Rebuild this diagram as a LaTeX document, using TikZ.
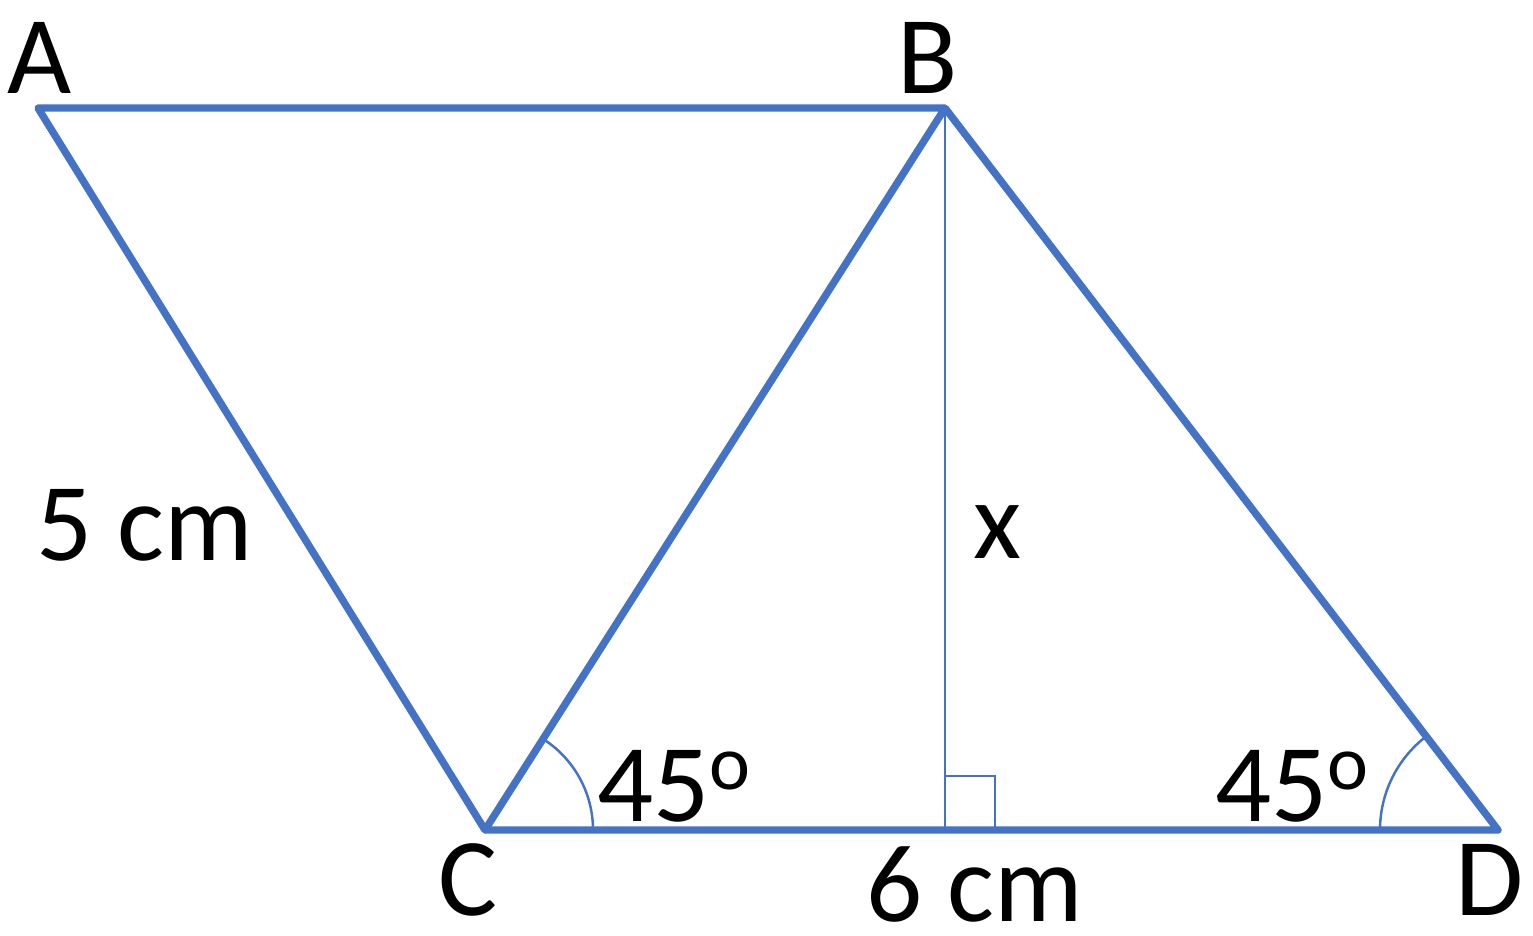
\documentclass[tikz,border=0pt]{standalone}
\usepackage{fontspec}
\setmainfont{Carlito}
\definecolor{ln}{HTML}{4472C4}
\begin{document}
\begin{tikzpicture}[x=0.01cm,y=-0.01cm,
  thickln/.style={draw=ln,line width=2.1pt,line join=round},
  thinln/.style={draw=ln,line width=0.7pt},
  lbl/.style={font=\fontsize{31.5}{34}\selectfont,inner sep=0pt}]
\useasboundingbox (0,0) rectangle (1533,935);
\coordinate (A) at (38,108);
\coordinate (B) at (945,108);
\coordinate (C) at (485,830);
\coordinate (D) at (1498,830);
\coordinate (F) at (945,830);
\draw[thickln] (A) -- (B) -- (C) -- cycle;
\draw[thickln] (B) -- (D) -- (C);
\draw[thinln] (B) -- (F);
\draw[thinln] (945,776) -- (995,776) -- (995,830);
\draw[thinln] (593,830) arc[start angle=0,end angle=-57.5,radius=108];
\draw[thinln] (1380,830) arc[start angle=180,end angle=232.5,radius=118];
\node[lbl] (la) at (40,58) {A};
\node[lbl] (lb) at (928,58) {B};
\node[lbl] (lc) at (468,880) {C};
\node[lbl] (ld) at (1490,880) {D};
\node[lbl] (l5) at (145,525) {5 cm};
\node[lbl] (lx) at (997,532) {x};
\node[lbl] (l6) at (975,884) {6 cm};
\node[lbl] (a1) at (675,786) {45\textsuperscript{o}};
\node[lbl] (a2) at (1293,786) {45\textsuperscript{o}};
\end{tikzpicture}
\end{document}
